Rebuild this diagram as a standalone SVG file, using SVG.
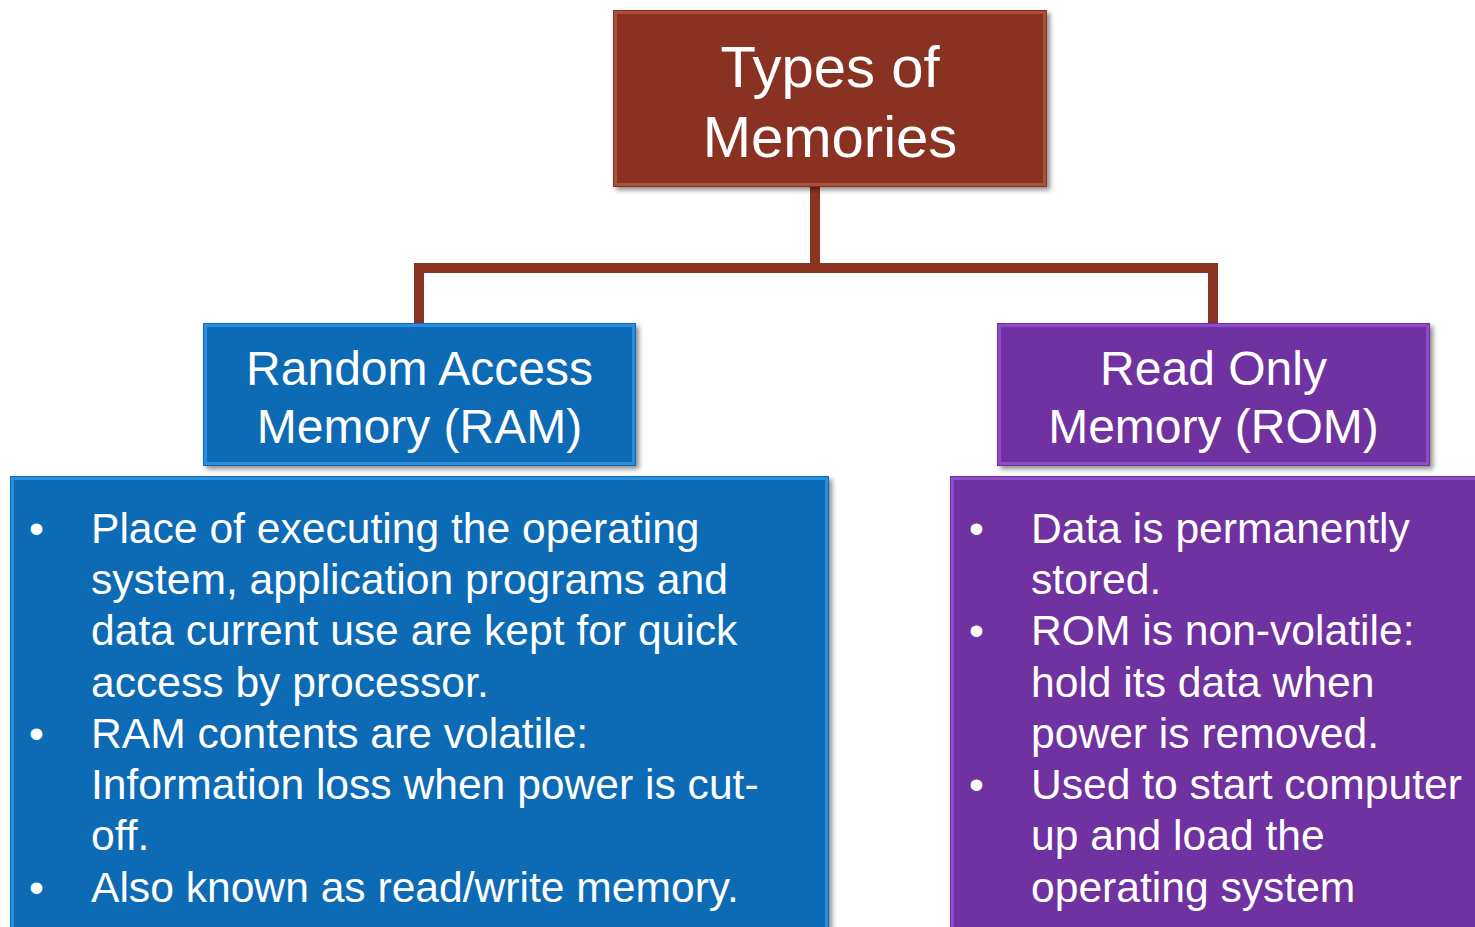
<svg xmlns="http://www.w3.org/2000/svg" width="1475" height="927" viewBox="0 0 1475 927">
<defs>
<filter id="sh" x="-5%" y="-5%" width="115%" height="115%">
<feDropShadow dx="3" dy="3" stdDeviation="2.5" flood-color="#000" flood-opacity="0.45"/>
</filter>
</defs>
<style>
.t{font-family:"Liberation Sans",Arial,sans-serif;fill:#fff}
.title{font-size:58px}
.head{font-size:48px}
.body{font-size:42.6px}
.brown{fill:#8A3321}
.blue{fill:#0A6BB5}
.purple{fill:#7030A0}
.edge{fill:none;stroke-width:3}
.conn{fill:none;stroke:#8A3321;stroke-width:10}
</style>
<rect width="1475" height="927" fill="#fff"/>
<g id="connectors">
<polyline class="conn" points="815,187 815,268"/>
<polyline class="conn" points="419,323 419,268 1213,268 1213,323"/>
</g>
<g id="types">
<rect class="brown" x="613" y="10" width="434" height="177" filter="url(#sh)"/>
<rect class="edge" x="615.5" y="12.5" width="429" height="172" stroke="#A9503A"/>
<text class="t title" x="830" y="87" text-anchor="middle">Types of</text>
<text class="t title" x="830" y="157" text-anchor="middle">Memories</text>
</g>
<g id="ram">
<rect class="blue" x="203" y="323" width="433" height="143" filter="url(#sh)"/>
<rect class="edge" x="205.5" y="325.5" width="428" height="138" stroke="#2B8EDD"/>
<text class="t head" x="419.5" y="385" text-anchor="middle">Random Access</text>
<text class="t head" x="419.5" y="443" text-anchor="middle">Memory (RAM)</text>
</g>
<g id="rom">
<rect class="purple" x="997" y="323" width="433" height="143" filter="url(#sh)"/>
<rect class="edge" x="999.5" y="325.5" width="428" height="138" stroke="#8D4CC8"/>
<text class="t head" x="1213.5" y="385" text-anchor="middle">Read Only</text>
<text class="t head" x="1213.5" y="443" text-anchor="middle">Memory (ROM)</text>
</g>
<g id="ram-details">
<rect class="blue" x="10" y="476" width="819" height="470" filter="url(#sh)"/>
<rect class="edge" x="12.5" y="478.5" width="814" height="470" stroke="#2B8EDD"/>
<g class="t body">
<text x="29" y="543">•</text>
<text x="91" y="543">Place of executing the operating</text>
<text x="91" y="594">system, application programs and</text>
<text x="91" y="645">data current use are kept for quick</text>
<text x="91" y="697">access by processor.</text>
<text x="29" y="748">•</text>
<text x="91" y="748">RAM contents are volatile:</text>
<text x="91" y="799">Information loss when power is cut-</text>
<text x="91" y="850">off.</text>
<text x="29" y="902">•</text>
<text x="91" y="902">Also known as read/write memory.</text>
</g>
</g>
<g id="rom-details">
<rect class="purple" x="950" y="476" width="540" height="470" filter="url(#sh)"/>
<rect class="edge" x="952.5" y="478.5" width="540" height="470" stroke="#8D4CC8"/>
<g class="t body">
<text x="969" y="543">•</text>
<text x="1031" y="543">Data is permanently</text>
<text x="1031" y="594">stored.</text>
<text x="969" y="645">•</text>
<text x="1031" y="645">ROM is non-volatile:</text>
<text x="1031" y="697">hold its data when</text>
<text x="1031" y="748">power is removed.</text>
<text x="969" y="799">•</text>
<text x="1031" y="799">Used to start computer</text>
<text x="1031" y="850">up and load the</text>
<text x="1031" y="902">operating system</text>
</g>
</g>
</svg>
